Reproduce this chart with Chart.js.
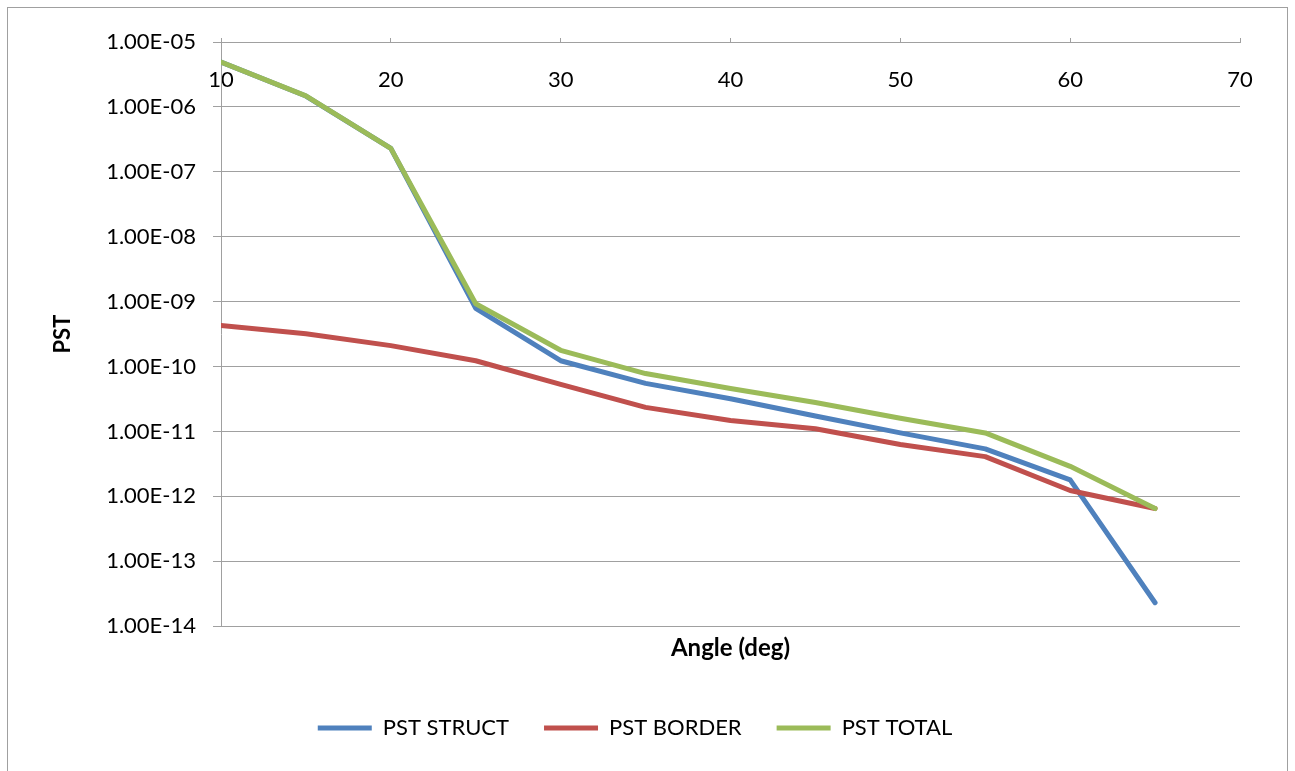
<!DOCTYPE html>
<html>
<head>
<meta charset="utf-8">
<script src="https://cdn.jsdelivr.net/npm/chart.js@4"></script>
<style>
  html, body { margin: 0; padding: 0; background: #fff; }
  #wrap { width: 1295px; height: 771px; position: relative; }
</style>
</head>
<body>
<div id="wrap"><canvas id="pst"></canvas></div>
<script>
// angle in degrees
const angles = [10, 15, 20, 25, 30, 35, 40, 45, 50, 55, 60, 65];
const pstStruct = [4.9e-6, 1.47e-6, 2.3e-7, 7.9e-10, 1.23e-10, 5.5e-11, 3.2e-11, 1.73e-11, 9.5e-12, 5.4e-12, 1.8e-12, 2.3e-14];
const pstBorder = [4.3e-10, 3.2e-10, 2.1e-10, 1.23e-10, 5.3e-11, 2.35e-11, 1.48e-11, 1.1e-11, 6.3e-12, 4.1e-12, 1.23e-12, 6.5e-13];
const pstTotal = [4.9e-6, 1.48e-6, 2.3e-7, 9.3e-10, 1.78e-10, 7.8e-11, 4.6e-11, 2.8e-11, 1.6e-11, 9.5e-12, 2.9e-12, 6.5e-13];
const yTicks = [1e-14, 1e-13, 1e-12, 1e-11, 1e-10, 1e-9, 1e-8, 1e-7, 1e-6, 1e-5];
const yTickLabels = ['1.00E-14', '1.00E-13', '1.00E-12', '1.00E-11', '1.00E-10', '1.00E-09', '1.00E-08', '1.00E-07', '1.00E-06', '1.00E-05'];

const gridGrey = '#a0a0a0';
Chart.defaults.font.family = 'Lato';
Chart.defaults.color = '#000';

function pts(vals) { return angles.map((a, i) => ({x: a, y: vals[i]})); }

const frame = {
    id: 'frame',
    beforeDraw(chart) {
        const c = chart.ctx;
        c.save();
        c.fillStyle = '#fff';
        c.fillRect(0, 0, chart.width, chart.height);
        c.strokeStyle = gridGrey; c.lineWidth = 1;
        c.strokeRect(7.5, 7.5, 1280, 775);
        c.restore();
    }
};

const lineStyle = { borderWidth: 5, borderCapStyle: 'round', borderJoinStyle: 'round' };

let _sensor_ = new Chart(document.getElementById('pst'), {
    type: 'line',
    data: {
        datasets: [
            { label: 'PST STRUCT', data: pts(pstStruct), borderColor: '#4f81bd', backgroundColor: '#4f81bd', order: 3, ...lineStyle },
            { label: 'PST BORDER', data: pts(pstBorder), borderColor: '#c0504d', backgroundColor: '#c0504d', order: 2, ...lineStyle },
            { label: 'PST TOTAL', data: pts(pstTotal), borderColor: '#9bbb59', backgroundColor: '#9bbb59', order: 1, ...lineStyle }
        ]
    },
    options: {
        responsive: true, maintainAspectRatio: false, animation: false,
        layout: { padding: { left: 30, right: 55, top: 42, bottom: 22 } },
        elements: {
            line: { tension: 0 },
            point: { radius: 0, hoverRadius: 0 }
        },
        plugins: {
            tooltip: { enabled: false },
            title: {
                display: true, text: 'Angle (deg)', position: 'bottom', weight: 100, fullSize: false,
                font: { size: 24, weight: 'bold' }, padding: { top: 8, bottom: 19 }
            },
            legend: {
                position: 'bottom',
                labels: {
                    usePointStyle: true, pointStyle: 'line', pointStyleWidth: 54,
                    font: { size: 22 }, padding: 35,
                    sort: (a, b) => a.datasetIndex - b.datasetIndex
                }
            }
        },
        scales: {
            x: {
                type: 'linear', min: 10, max: 70,
                position: { y: 1e-5 },
                ticks: { stepSize: 10, padding: 30, font: { size: 22 }, maxRotation: 0 },
                grid: { drawOnChartArea: false, color: gridGrey, tickLength: -5 },
                border: { color: gridGrey }
            },
            y: {
                type: 'logarithmic', min: 1e-14, max: 1e-5,
                afterBuildTicks: s => { s.ticks = yTicks.map(v => ({ value: v })); },
                afterFit: s => { s.width = 191; },
                ticks: {
                    padding: 17, font: { size: 22 },
                    callback: v => yTickLabels[yTicks.findIndex(t => Math.abs(Math.log10(t) - Math.log10(v)) < 1e-6)]
                },
                grid: { color: gridGrey, tickLength: 8 },
                border: { color: gridGrey },
                title: { display: true, text: 'PST', font: { size: 22, weight: 'bold' }, padding: { top: 20, bottom: 0 } }
            }
        }
    },
    plugins: [frame]
});
</script>
</body>
</html>
